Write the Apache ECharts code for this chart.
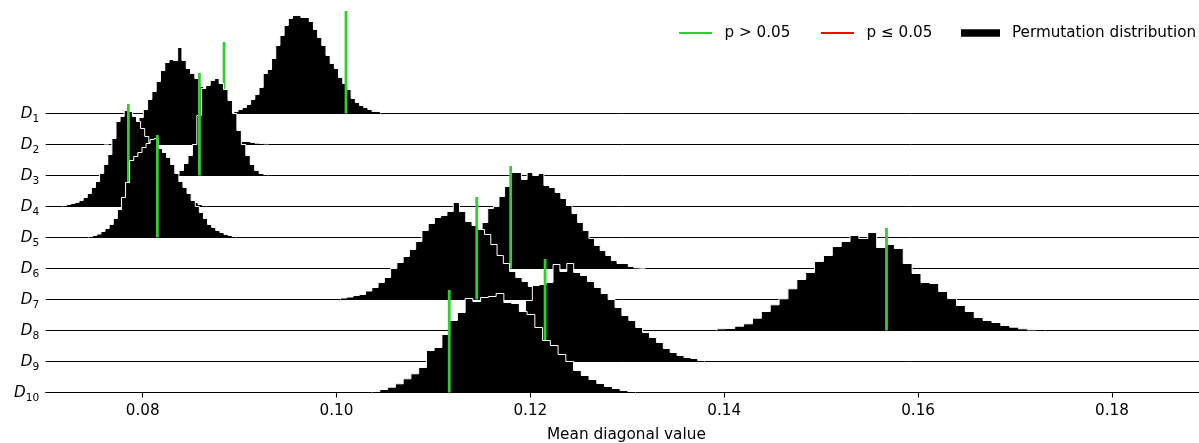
<!DOCTYPE html>
<html>
<head>
<meta charset="utf-8">
<script src="https://cdn.jsdelivr.net/npm/echarts@6/dist/echarts.min.js"></script>
<style>
html,body{margin:0;padding:0;background:#fff;}
#chart{width:1199px;height:443px;}
</style>
</head>
<body>
<div id="chart"></div>
<script>
// ---------------- data ----------------
const ROW_NAMES = ['D1','D2','D3','D4','D5','D6','D7','D8','D9','D10'];
// observed mean diagonal value per row (all p > 0.05)
const OBSERVED = [0.10098, 0.08840, 0.08586, 0.07853, 0.08152, 0.11797, 0.11447, 0.15674, 0.12152, 0.11163];
// permutation histograms: first bin edge, bin width, bin heights
const BIN_START = [0.089413, 0.076082, 0.083299, 0.071752, 0.074432, 0.108642, 0.100414, 0.139254, 0.111673, 0.103683];
const BIN_WIDTH = [0.000432, 0.000443, 0.000459, 0.000423, 0.000423, 0.000580, 0.000646, 0.000915, 0.000711, 0.000799];
const HIST_D1 = [2, 4, 6, 9, 14, 19, 26, 40, 44, 55, 68, 78, 88, 95, 98, 98, 96, 96, 92, 84, 76, 68, 58, 50, 45, 36, 30, 24, 15, 11, 8, 6, 4, 2, 2];
const HIST_D2 = [0.5, 1, 2, 3, 5, 8, 13, 19, 27, 35, 45, 53, 63, 74, 82, 85, 84, 97, 84, 76, 71, 66, 58, 50, 42, 34, 27, 20, 14, 10, 6, 4.5, 3, 3, 2, 1.3, 1, 0.7];
const HIST_D3 = [1.5, 5, 12, 20, 31, 60, 87, 90, 95, 97, 92, 86, 75, 62, 45, 31, 20, 11, 5, 2, 1];
const HIST_D4 = [1, 2, 3, 4, 6, 9, 13, 19, 25, 33, 42, 52, 68, 85, 90, 96, 95, 90, 85, 78, 70, 64, 58, 51, 44, 37, 30, 24, 18, 13, 9, 6, 4, 2, 1];
const HIST_D5 = [1, 2, 3.5, 6, 9, 13, 19, 28, 40, 55, 77, 81, 85, 90, 94, 98, 99, 89, 85, 80, 73, 64, 56, 50, 44, 37, 31, 25, 19, 13, 10, 7, 5, 3, 2, 1];
const HIST_D6 = [0.5, 1, 2, 3, 5, 8, 12, 17, 23, 30, 38, 46, 60, 62, 72, 82, 96, 96, 89, 96, 93, 95, 83, 81, 76, 70, 63, 55, 46, 38, 30, 23, 18, 13, 8, 5, 5, 2, 0.7, 0.3];
const HIST_D7 = [1.5, 2.5, 4, 5, 8.5, 12, 17, 22, 31, 37, 43, 50, 58, 69, 76, 82, 84, 88, 97, 88, 78, 74, 70, 65, 55, 44, 36, 28, 22, 18, 13, 9, 6, 4, 2, 1];
const HIST_D8 = [1.7, 2, 4.3, 6.7, 12.3, 19, 25.7, 31.7, 41.7, 51, 58, 69, 75, 84, 89, 95, 92, 98, 83, 86, 82, 67, 57, 48, 47, 39, 32, 25, 19, 13, 10, 8, 5, 3.3, 1.7, 0.7, 1];
const HIST_D9 = [0.5, 1, 2, 4, 7, 11, 16, 23, 31, 40, 50, 61, 76, 77, 79, 97, 90, 98, 89, 86, 80, 74, 68, 62, 54, 46, 41, 34, 29, 24, 19, 13, 9, 6, 4, 3, 1];
const HIST_D10 = [1, 3, 5.3, 8.7, 13.7, 18.7, 25, 42, 45, 58, 72, 80, 94, 91, 95, 96, 99, 90, 89, 81, 78, 65, 52, 47, 38, 31, 22, 17, 13, 9, 6, 4, 2, 1];
const HISTS = [HIST_D1, HIST_D2, HIST_D3, HIST_D4, HIST_D5, HIST_D6, HIST_D7, HIST_D8, HIST_D9, HIST_D10];
const X_TICKS = [0.08, 0.10, 0.12, 0.14, 0.16, 0.18];

// ---------------- layout ----------------
const X_MIN = 0.07, X_MAX = 0.18898;
const Y_MAX = 392;
const ROW_STEP = 31;        // vertical offset between ridges (height units)
const MARK_HEIGHT = 102.5;  // height of observed-value marker
const N = ROW_NAMES.length;
const baseOf = i => (N - 1 - i) * ROW_STEP;
const ROW_BASES = ROW_NAMES.map((_, i) => baseOf(i));
const FONT = 'DejaVu Sans';
const GREEN = '#32CD32';

const series = [];
// ridge baselines
series.push({
  type: 'custom', name: 'baselines', silent: true, z: 1,
  data: ROW_NAMES.map((_, i) => [X_MIN, baseOf(i)]),
  renderItem: function (params, api) {
    const b = api.value(1);
    const p0 = api.coord([X_MIN, b]);
    const p1 = api.coord([X_MAX, b]);
    return { type: 'line', shape: { x1: p0[0], y1: p0[1], x2: p1[0], y2: p1[1] },
             style: { stroke: '#000', lineWidth: 1 } };
  }
});

ROW_NAMES.forEach((name, i) => {
  const h = HISTS[i], start = BIN_START[i], w = BIN_WIDTH[i], base = baseOf(i);
  series.push({
    type: 'custom', name: 'Permutation distribution', silent: true, z: 10 + 2 * i,
    itemStyle: { color: '#000' },
    data: [[start, base]],
    renderItem: function (params, api) {
      const pts = [api.coord([start, base])];
      for (let k = 0; k < h.length; k++) {
        pts.push(api.coord([start + k * w, base + h[k]]));
        pts.push(api.coord([start + (k + 1) * w, base + h[k]]));
      }
      pts.push(api.coord([start + h.length * w, base]));
      return { type: 'group', children: [
        { type: 'polygon', shape: { points: pts }, style: { fill: '#000' } },
        { type: 'polyline', shape: { points: pts }, style: { stroke: '#fff', lineWidth: 1, fill: null } }
      ] };
    }
  });
  series.push({
    type: 'line', name: 'p > 0.05', silent: true, z: 11 + 2 * i,
    color: GREEN, symbol: 'none',
    lineStyle: { color: GREEN, width: 2.8 },
    data: [[OBSERVED[i], base], [OBSERVED[i], base + MARK_HEIGHT]]
  });
});
series.push({ type: 'line', name: 'p \u2264 0.05', color: '#ff0000', symbol: 'none',
  lineStyle: { color: '#ff0000', width: 2.8 }, data: [] });

const chart = echarts.init(document.getElementById('chart'), null, { renderer: 'canvas' });
chart.setOption({
  animation: false,
  backgroundColor: '#fff',
  grid: { left: 45.7, right: 0, top: 0.5, bottom: 50.5, containLabel: false, outerBoundsMode: 'none' },
  legend: [
    { data: ['p > 0.05', 'p \u2264 0.05'], left: 679, top: 24, padding: 0, itemGap: 30.5,
      icon: 'rect', itemWidth: 33, itemHeight: 2, selectedMode: false,
      itemStyle: { borderWidth: 0 },
      textStyle: { fontFamily: FONT, fontSize: 15.2, color: '#000', padding: [0, 0, 0, 7.6], lineHeight: 18 } },
    { data: ['Permutation distribution'], left: 961, top: 24, padding: 0,
      icon: 'rect', itemWidth: 39, itemHeight: 7.5, selectedMode: false,
      itemStyle: { borderWidth: 0 },
      textStyle: { fontFamily: FONT, fontSize: 15.2, color: '#000', padding: [0, 0, 0, 7], lineHeight: 18 } }
  ],
  xAxis: {
    type: 'value', min: X_MIN, max: X_MAX,
    axisLine: { show: true, lineStyle: { color: '#000', width: 1 } },
    axisTick: { show: true, length: 5, lineStyle: { color: '#000', width: 1.1 }, customValues: X_TICKS },
    axisLabel: { customValues: X_TICKS, formatter: v => v.toFixed(2), color: '#000',
                 fontFamily: FONT, fontSize: 15.2, margin: 11 },
    splitLine: { show: false },
    name: 'Mean diagonal value', nameLocation: 'middle', nameGap: 35,
    nameTextStyle: { fontFamily: FONT, fontSize: 15.3, color: '#000', padding: [0, 0, 0, 8] }
  },
  yAxis: {
    type: 'value', min: 0, max: Y_MAX,
    axisLine: { show: false }, axisTick: { show: false }, splitLine: { show: false },
    axisLabel: {
      customValues: ROW_BASES, margin: 6.5, padding: [4, 0, 0, 0],
      formatter: function (v) {
        const i = Math.round((N - 1) - v / ROW_STEP);
        const nm = ROW_NAMES[i];
        return '{d|' + nm.charAt(0) + '}{s|' + nm.slice(1) + '}';
      },
      rich: {
        d: { fontFamily: FONT, fontStyle: 'italic', fontSize: 15.2, verticalAlign: 'top', color: '#000' },
        s: { fontFamily: FONT, fontSize: 10.6, padding: [6.5, 0, 0, 0], verticalAlign: 'top', color: '#000' }
      }
    }
  },
  series: series
});
</script>
</body>
</html>
